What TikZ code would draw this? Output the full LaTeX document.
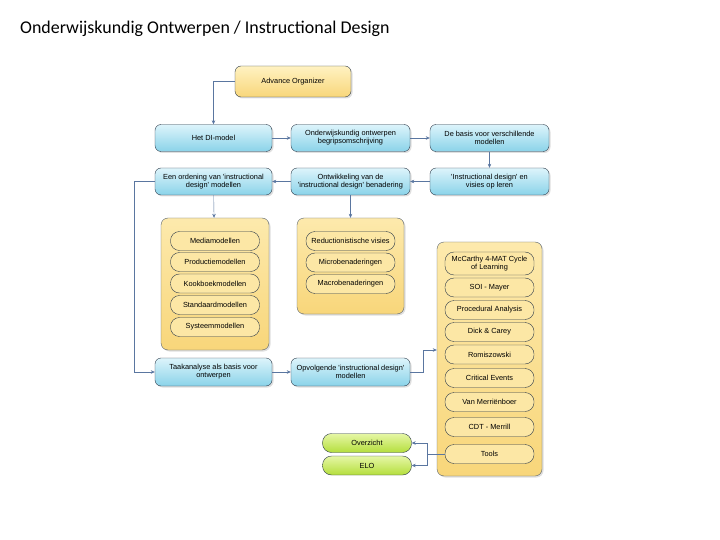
\documentclass[tikz,border=0pt]{standalone}
\usepackage{fontspec}
\setmainfont{Carlito}
\newfontfamily\boxfont{Liberation Sans}
\usepackage{xcolor}
\usetikzlibrary{arrows.meta,shadows}

\definecolor{lijnkleur}{HTML}{5A76A0}
\definecolor{randkleur}{HTML}{2E3B4A}
\definecolor{cyaanboven}{HTML}{DDF4FB}
\definecolor{cyaanonder}{HTML}{8AD3E9}
\definecolor{geelboven}{HTML}{FFF2C2}
\definecolor{geelonder}{HTML}{F8D67A}
\definecolor{groenboven}{HTML}{E6F7A6}
\definecolor{groenonder}{HTML}{B4DE3C}

\begin{document}
\begin{tikzpicture}[x=1bp, y=-1bp,
    every node/.style={font=\boxfont\fontsize{7.4}{8.2}\selectfont, align=center, inner sep=0.5bp},
    blok/.style={draw=randkleur, thin, rounded corners=6bp, top color=cyaanboven, bottom color=cyaanonder,
        minimum width=117bp, minimum height=27bp,
        drop shadow={opacity=0.25, shadow xshift=1.5bp, shadow yshift=-1.5bp}},
    geelblok/.style={blok, top color=geelboven, bottom color=geelonder},
    bak/.style={draw=randkleur!80, thin, rounded corners=7bp, top color=geelboven!70!geelonder, bottom color=geelonder,
        drop shadow={opacity=0.25, shadow xshift=1.5bp, shadow yshift=-1.5bp}},
    item/.style={draw=randkleur, thin, rounded corners=9bp, fill=geelboven!60!geelonder,
        minimum width=89bp, minimum height=19bp},
    groenblok/.style={item, fill=none, top color=groenboven, bottom color=groenonder},
    lijn/.style={draw=lijnkleur, thin},
    pijl/.style={lijn, -{Stealth[length=4bp, width=3.5bp]}}]

\useasboundingbox (0,0) rectangle (720,540);

% Title
\node[anchor=west, font=\fontsize{18}{21}\selectfont, inner sep=0pt] (titel) at (20,29)
    {Onderwijskundig Ontwerpen / Instructional Design};

% Top
\node[geelblok, minimum width=116bp, minimum height=31bp] (ao) at (293,81.5) {Advance Organizer};

% Row 1
\node[blok] (di) at (213.5,138) {Het DI-model};
\node[blok, minimum width=119bp] (ow) at (350.5,138) {Onderwijskundig ontwerpen\\begripsomschrijving};
\node[blok, minimum width=119bp] (basis) at (489.5,138) {De basis voor verschillende\\modellen};

% Row 2
\node[blok] (orden) at (213.5,181.5) {Een ordening van 'instructional\\design' modellen};
\node[blok, minimum width=119bp] (ontw) at (350.5,181.5) {Ontwikkeling van de\\'instructional design' benadering};
\node[blok, minimum width=119bp] (visies) at (489.5,181.5) {'Instructional design' en\\visies op leren};

% Yellow containers
\node[bak, minimum width=108bp, minimum height=132bp] (bak1) at (215,284) {};
\node[bak, minimum width=107bp, minimum height=96bp] (bak2) at (350.5,266) {};
\node[bak, minimum width=105bp, minimum height=234bp] (bak3) at (489.5,359) {};

% Models (left)
\node[item] (media) at (215,241) {Mediamodellen};
\node[item] (productie) at (215,262) {Productiemodellen};
\node[item] (kookboek) at (215,283.5) {Kookboekmodellen};
\node[item] (standaard) at (215,305) {Standaardmodellen};
\node[item] (systeem) at (215,327) {Systeemmodellen};

% Views (middle)
\node[item] (reductie) at (350.5,241) {Reductionistische visies};
\node[item] (micro) at (350.5,262.5) {Microbenaderingen};
\node[item] (macro) at (350.5,284) {Macrobenaderingen};

% Models (right)
\node[item, minimum height=23bp] (mccarthy) at (489.5,263.5) {McCarthy 4-MAT Cycle\\of Learning};
\node[item] (soi) at (489.5,287.5) {SOI - Mayer};
\node[item] (proc) at (489.5,310) {Procedural Analysis};
\node[item] (dick) at (489.5,332) {Dick \& Carey};
\node[item] (romi) at (489.5,354.5) {Romiszowski};
\node[item] (critical) at (489.5,378) {Critical Events};
\node[item] (merrienboer) at (489.5,402) {Van Merriënboer};
\node[item] (cdt) at (489.5,427) {CDT - Merrill};
\node[item] (tools) at (489.5,454) {Tools};

% Row 3
\node[blok, minimum height=28bp] (taak) at (213.5,372) {Taakanalyse als basis voor\\ontwerpen};
\node[blok, minimum width=119bp, minimum height=28bp] (opv) at (350.5,372) {Opvolgende 'instructional design'\\modellen};

% Green
\node[groenblok] (overzicht) at (367,443) {Overzicht};
\node[groenblok] (elo) at (367,465.5) {ELO};

% Connectors
\draw[pijl] (ao.west) -| (di.north);
\draw[pijl] (di) -- (ow);
\draw[pijl] (ow) -- (basis);
\draw[pijl] (basis) -- (visies);
\draw[pijl] (visies) -- (ontw);
\draw[pijl] (ontw) -- (orden);
\draw[pijl] (orden) -- (bak1);
\draw[pijl] (ontw) -- (bak2);
\draw[pijl] (orden.west) -- ++(-21,0) |- (taak.west);
\draw[pijl] (taak) -- (opv);
\draw[pijl] (opv.east) -- ++(13,0) |- (bak3.west |- 0,350);
\draw[lijn] (tools.west) -- ++(-18,0) coordinate (splits);
\draw[pijl] (splits) |- (overzicht.east);
\draw[pijl] (splits) |- (elo.east);

\end{tikzpicture}
\end{document}
